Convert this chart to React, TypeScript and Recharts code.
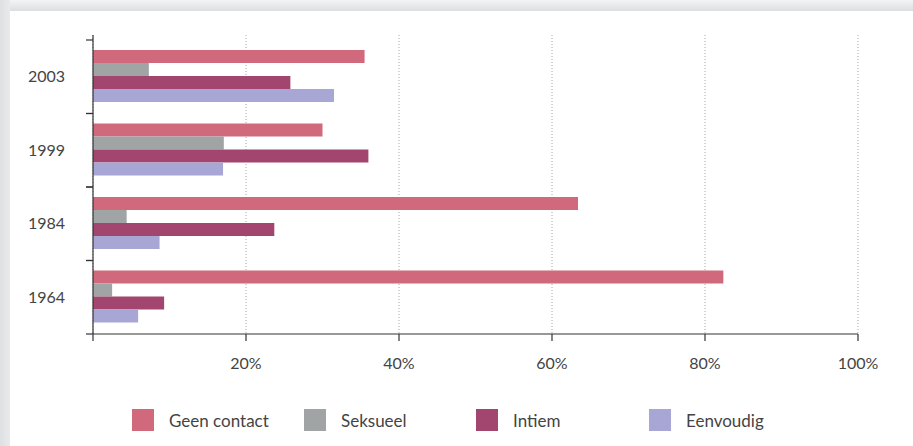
import { Bar, BarChart, CartesianGrid, XAxis, YAxis } from "recharts";

const years = ["2003", "1999", "1984", "1964"];
const geenContact = [35.5, 30.0, 63.4, 82.4];
const seksueel = [7.3, 17.1, 4.4, 2.5];
const intiem = [25.8, 36.0, 23.7, 9.3];
const eenvoudig = [31.5, 17.0, 8.7, 5.9];
const xTicks = [0, 20, 40, 60, 80, 100];

const series = [
  { key: "geen", name: "Geen contact", color: "#d0697b", values: geenContact },
  { key: "seksueel", name: "Seksueel", color: "#a0a4a5", values: seksueel },
  { key: "intiem", name: "Intiem", color: "#a3466f", values: intiem },
  { key: "eenvoudig", name: "Eenvoudig", color: "#a7a6d4", values: eenvoudig },
];

const data = years.map((year, i) => {
  const row: Record<string, string | number> = { year };
  series.forEach((s) => {
    row[s.key] = s.values[i];
  });
  return row;
});

const textColor = "#444";
const axisColor = "#333";
const font = "Lato, 'Open Sans', sans-serif";

function YearTick(props: any) {
  const { x, y, payload } = props;
  const half = payload?.offset ?? 36.75;
  return (
    <g>
      <line x1={x - 7} x2={x} y1={y - half} y2={y - half} stroke={axisColor} strokeWidth={1.2} />
      <line x1={x - 7} x2={x} y1={y + half} y2={y + half} stroke={axisColor} strokeWidth={1.2} />
      <text x={x - 28} y={y} dy="0.35em" textAnchor="end" fill={textColor} fontSize={16} fontFamily={font}>
        {payload.value}
      </text>
    </g>
  );
}

function LegendRow() {
  const positions = [132, 304, 476, 649];
  return (
    <div style={{ position: "absolute", top: 409, left: 0, width: 913, height: 22, fontFamily: font }}>
      {series.map((s, i) => (
        <div
          key={s.key}
          style={{ position: "absolute", left: positions[i], top: 0, display: "flex", alignItems: "center", height: 22 }}
        >
          <span style={{ display: "inline-block", width: 22, height: 22, background: s.color }} />
          <span style={{ marginLeft: 15, fontSize: 17, color: textColor, whiteSpace: "nowrap" }}>{s.name}</span>
        </div>
      ))}
    </div>
  );
}

export default function App() {
  return (
    <div
      style={{
        position: "absolute",
        top: 0,
        left: 0,
        width: 913,
        height: 446,
        overflow: "hidden",
        background: "linear-gradient(to bottom, #f4f4f5 0px, #dcdee0 11px, #e4e5e7 12px)",
      }}
    >
      <div
        style={{
          position: "absolute",
          top: 0,
          left: 0,
          width: 10,
          height: 446,
          background: "linear-gradient(to right, #dfe0e2, #e9eaeb)",
        }}
      />
      <div style={{ position: "absolute", top: 11, left: 10, width: 903, height: 435, background: "#fff" }} />
      <div style={{ position: "absolute", top: 0, left: 0, fontFamily: font }}>
        <BarChart
          width={913}
          height={446}
          data={data}
          layout="vertical"
          margin={{ top: 35, right: 55, bottom: 72, left: 0 }}
          barCategoryGap={10}
          barGap={0}
        >
          <CartesianGrid horizontal={false} stroke="#a8a8a8" strokeDasharray="1 2" />
          <XAxis
            type="number"
            domain={[0, 100]}
            ticks={xTicks}
            interval={0}
            height={40}
            tickFormatter={(v: number) => (v === 0 ? "" : `${v}%`)}
            axisLine={{ stroke: axisColor, strokeWidth: 1.2 }}
            tickLine={{ stroke: axisColor, strokeWidth: 1.2 }}
            tickSize={7}
            tickMargin={17}
            tick={{ fill: textColor, fontSize: 16, fontFamily: font }}
          />
          <YAxis
            type="category"
            dataKey="year"
            width={93}
            padding={{ top: 5, bottom: 0 }}
            axisLine={{ stroke: axisColor, strokeWidth: 1.2 }}
            tickLine={false}
            tickSize={0}
            tickMargin={0}
            interval={0}
            tick={<YearTick />}
          />
          {series.map((s) => (
            <Bar key={s.key} dataKey={s.key} name={s.name} fill={s.color} isAnimationActive={false} />
          ))}
        </BarChart>
      </div>
      <LegendRow />
    </div>
  );
}
